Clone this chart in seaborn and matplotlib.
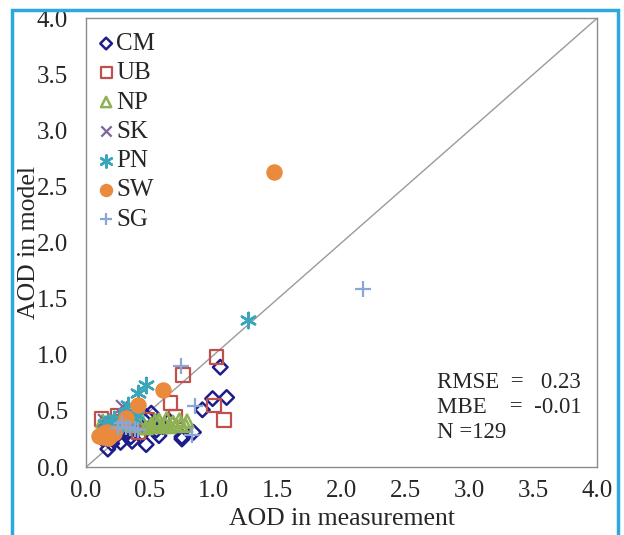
import matplotlib
matplotlib.use("Agg")
import matplotlib.pyplot as plt
import seaborn as sns
import numpy as np
from matplotlib.patches import Rectangle

cm_x = [1.05, 1.10, 0.99, 0.91, 0.51, 0.47, 0.47, 0.57, 0.75, 0.75, 0.84, 0.36, 0.27, 0.17,
        0.20, 0.31, 0.41, 0.53, 0.65, 0.22, 0.13, 0.30, 0.44, 0.60, 0.39, 0.25, 0.35, 0.55]
cm_y = [0.89, 0.62, 0.61, 0.51, 0.48, 0.45, 0.20, 0.28, 0.27, 0.25, 0.31, 0.23, 0.22, 0.16,
        0.21, 0.29, 0.35, 0.37, 0.41, 0.26, 0.25, 0.32, 0.30, 0.36, 0.41, 0.30, 0.27, 0.33]

ub_x = [1.02, 0.76, 0.66, 1.00, 1.08, 0.70, 0.12, 0.25, 0.41, 0.34, 0.18, 0.28, 0.48]
ub_y = [0.98, 0.82, 0.57, 0.55, 0.42, 0.45, 0.43, 0.46, 0.31, 0.38, 0.35, 0.40, 0.42]

np_x = [0.44, 0.51, 0.56, 0.62, 0.68, 0.73, 0.79, 0.78, 0.59, 0.50, 0.13, 0.19, 0.25,
        0.37, 0.41, 0.47, 0.54, 0.65, 0.70, 0.74, 0.16, 0.22, 0.31, 0.57, 0.63]
np_y = [0.40, 0.38, 0.39, 0.38, 0.40, 0.42, 0.41, 0.37, 0.36, 0.36, 0.41, 0.40, 0.38,
        0.37, 0.39, 0.35, 0.41, 0.36, 0.37, 0.38, 0.37, 0.42, 0.39, 0.42, 0.43]

sk_x = [0.28, 0.14, 0.22, 0.30, 0.18, 0.36]
sk_y = [0.54, 0.42, 0.38, 0.46, 0.33, 0.40]

pn_x = [1.27, 0.47, 0.41, 0.33, 0.22, 0.18, 0.28, 0.37, 0.20, 0.26, 0.31, 0.15, 0.40]
pn_y = [1.31, 0.73, 0.66, 0.55, 0.43, 0.40, 0.38, 0.44, 0.36, 0.42, 0.48, 0.38, 0.46]

sw_x = [1.47, 0.60, 0.41, 0.31, 0.10, 0.16, 0.22, 0.17, 0.13, 0.19, 0.14]
sw_y = [2.63, 0.69, 0.55, 0.44, 0.28, 0.31, 0.30, 0.26, 0.27, 0.28, 0.30]

sg_x = [2.17, 0.74, 0.85, 0.28, 0.34, 0.41, 0.83, 0.25, 0.31, 0.38]
sg_y = [1.59, 0.90, 0.54, 0.39, 0.35, 0.33, 0.29, 0.35, 0.36, 0.34]

ticks = [0.0, 0.5, 1.0, 1.5, 2.0, 2.5, 3.0, 3.5, 4.0]
stats = ['RMSE  =   0.23', 'MBE    =  -0.01', 'N =129']

sns.set_style("white")
plt.rcParams['font.family'] = ['Liberation Serif', 'DejaVu Serif']

fig = plt.figure(figsize=(6.24, 5.35), dpi=100)
ax = fig.add_axes([0.138, 0.127, 0.819, 0.839])

# 1:1 line
ax.plot([0, 4], [0, 4], color='#9a9a9a', linewidth=1.0, zorder=1)

# open markers
sns.scatterplot(x=cm_x, y=cm_y, marker='D', s=55, facecolor='none', edgecolor='#1c1c8c',
                linewidth=1.8, label='CM', ax=ax, zorder=3)
sns.scatterplot(x=ub_x, y=ub_y, marker='s', s=95, facecolor='none', edgecolor='#c0504d',
                linewidth=1.6, label='UB', ax=ax, zorder=3)
sns.scatterplot(x=np_x, y=np_y, marker='^', s=85, facecolor='none', edgecolor='#8db153',
                linewidth=1.8, label='NP', ax=ax, zorder=4)
# line-art markers
sns.scatterplot(x=sk_x, y=sk_y, marker='x', s=85, color='#7e64a0', linewidth=1.6,
                label='SK', ax=ax, zorder=4)
sns.scatterplot(x=pn_x, y=pn_y, marker=(6, 2, 0), s=120, color='#3aa6b9', linewidth=1.8,
                label='PN', ax=ax, zorder=4)
sns.scatterplot(x=sw_x, y=sw_y, marker='o', s=120, color='#ea8a3c', edgecolor='#ea8a3c',
                label='SW', ax=ax, zorder=5)
sns.scatterplot(x=sg_x, y=sg_y, marker='+', s=120, color='#8aa6d6', linewidth=1.6,
                label='SG', ax=ax, zorder=6)

ax.set_xlim(0, 4)
ax.set_ylim(0, 4)
ax.set_xticks(ticks)
ax.set_yticks(ticks)
ax.set_xticklabels([f'{t:.1f}' for t in ticks], fontsize=18)
ax.set_yticklabels([f'{t:.1f}' for t in ticks], fontsize=18)
ax.tick_params(direction='out', length=5, width=1, color='#808080')
ax.tick_params(axis='x', pad=4)
ax.tick_params(axis='y', pad=8)
for sp in ax.spines.values():
    sp.set_color('#8c8c8c')
    sp.set_linewidth(1.0)
ax.set_xlabel('AOD in measurement', fontsize=18.5, labelpad=5)
ax.set_ylabel('AOD in model', fontsize=18.5, labelpad=-2)

leg = ax.legend(loc='upper left', bbox_to_anchor=(0.0, 0.993), frameon=False, fontsize=18,
                handletextpad=0.05, labelspacing=0.27, borderaxespad=0.1, borderpad=0.35,
                handlelength=0.7, markerscale=0.8)

for i, line in enumerate(stats):
    ax.text(2.75, 0.75 - 0.22 * i, line, fontsize=16.5, va='center')

# light blue frame around the figure
fig.patches.append(Rectangle((0.019, -0.02), 0.972, 1.002, transform=fig.transFigure,
                             fill=False, edgecolor='#2aa9e0', linewidth=2.5))

fig.savefig('out.png', dpi=100)
